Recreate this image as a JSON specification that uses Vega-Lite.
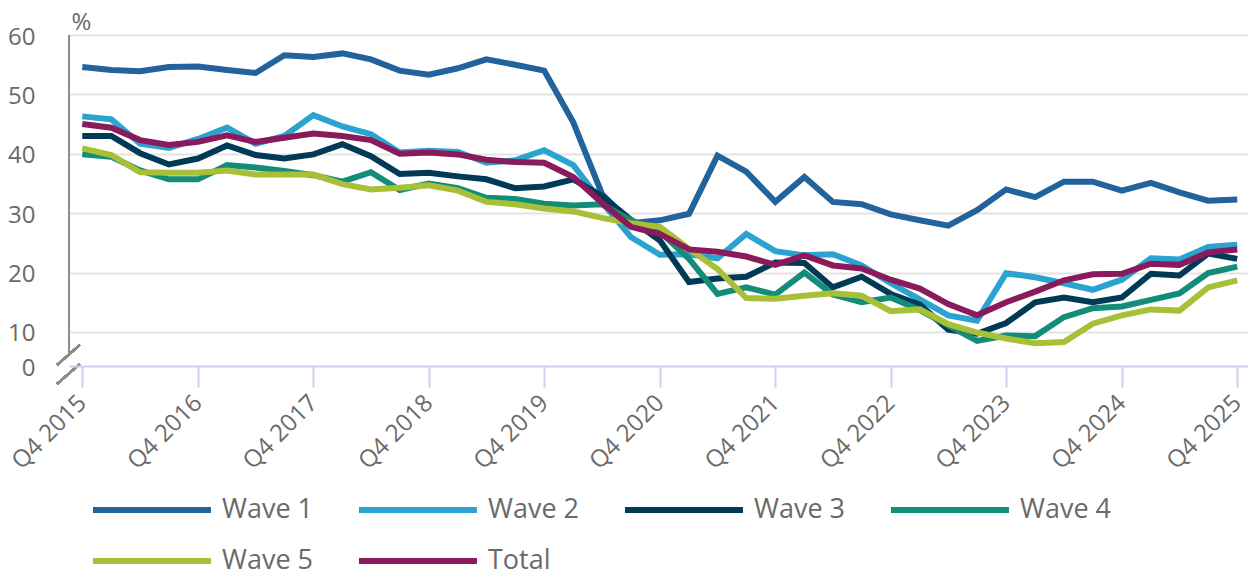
{
  "$schema": "https://vega.github.io/schema/vega-lite/v6.json",
  "width": 1179,
  "height": 331,
  "autosize": {"type": "none"},
  "padding": {"left": 69, "top": 35, "right": 0, "bottom": 210},
  "background": "white",
  "config": {"view": {"stroke": null}, "font": "Open Sans"},
  "data": {"values": [
    {"quarter": "2015-10-01", "Wave 1": 54.6, "Wave 2": 46.3, "Wave 3": 43.0, "Wave 4": 39.9, "Wave 5": 40.9, "Total": 45.0},
    {"quarter": "2016-01-01", "Wave 1": 54.1, "Wave 2": 45.8, "Wave 3": 43.0, "Wave 4": 39.5, "Wave 5": 39.8, "Total": 44.4},
    {"quarter": "2016-04-01", "Wave 1": 53.9, "Wave 2": 41.7, "Wave 3": 40.1, "Wave 4": 37.2, "Wave 5": 36.9, "Total": 42.3},
    {"quarter": "2016-07-01", "Wave 1": 54.6, "Wave 2": 41.0, "Wave 3": 38.2, "Wave 4": 35.7, "Wave 5": 36.8, "Total": 41.5},
    {"quarter": "2016-10-01", "Wave 1": 54.7, "Wave 2": 42.5, "Wave 3": 39.2, "Wave 4": 35.7, "Wave 5": 36.8, "Total": 42.0},
    {"quarter": "2017-01-01", "Wave 1": 54.1, "Wave 2": 44.4, "Wave 3": 41.4, "Wave 4": 38.1, "Wave 5": 37.2, "Total": 43.1},
    {"quarter": "2017-04-01", "Wave 1": 53.6, "Wave 2": 41.7, "Wave 3": 39.8, "Wave 4": 37.7, "Wave 5": 36.5, "Total": 42.0},
    {"quarter": "2017-07-01", "Wave 1": 56.6, "Wave 2": 43.0, "Wave 3": 39.2, "Wave 4": 37.1, "Wave 5": 36.5, "Total": 42.7},
    {"quarter": "2017-10-01", "Wave 1": 56.3, "Wave 2": 46.5, "Wave 3": 39.9, "Wave 4": 36.4, "Wave 5": 36.5, "Total": 43.4},
    {"quarter": "2018-01-01", "Wave 1": 56.9, "Wave 2": 44.6, "Wave 3": 41.6, "Wave 4": 35.3, "Wave 5": 34.9, "Total": 43.0},
    {"quarter": "2018-04-01", "Wave 1": 55.9, "Wave 2": 43.3, "Wave 3": 39.6, "Wave 4": 36.9, "Wave 5": 34.0, "Total": 42.3},
    {"quarter": "2018-07-01", "Wave 1": 54.0, "Wave 2": 40.2, "Wave 3": 36.6, "Wave 4": 33.9, "Wave 5": 34.3, "Total": 40.0},
    {"quarter": "2018-10-01", "Wave 1": 53.3, "Wave 2": 40.5, "Wave 3": 36.8, "Wave 4": 35.0, "Wave 5": 34.7, "Total": 40.2},
    {"quarter": "2019-01-01", "Wave 1": 54.4, "Wave 2": 40.3, "Wave 3": 36.2, "Wave 4": 34.2, "Wave 5": 33.8, "Total": 39.9},
    {"quarter": "2019-04-01", "Wave 1": 55.9, "Wave 2": 38.5, "Wave 3": 35.7, "Wave 4": 32.6, "Wave 5": 31.9, "Total": 39.0},
    {"quarter": "2019-07-01", "Wave 1": 55.0, "Wave 2": 38.9, "Wave 3": 34.2, "Wave 4": 32.4, "Wave 5": 31.5, "Total": 38.6},
    {"quarter": "2019-10-01", "Wave 1": 54.0, "Wave 2": 40.6, "Wave 3": 34.5, "Wave 4": 31.6, "Wave 5": 30.8, "Total": 38.5},
    {"quarter": "2020-01-01", "Wave 1": 45.3, "Wave 2": 38.1, "Wave 3": 35.7, "Wave 4": 31.3, "Wave 5": 30.3, "Total": 36.1},
    {"quarter": "2020-04-01", "Wave 1": 33.2, "Wave 2": 31.8, "Wave 3": 32.9, "Wave 4": 31.5, "Wave 5": 29.2, "Total": 31.7},
    {"quarter": "2020-07-01", "Wave 1": 28.3, "Wave 2": 26.0, "Wave 3": 28.9, "Wave 4": 28.8, "Wave 5": 28.3, "Total": 27.7},
    {"quarter": "2020-10-01", "Wave 1": 28.8, "Wave 2": 23.0, "Wave 3": 25.4, "Wave 4": 26.9, "Wave 5": 27.7, "Total": 26.5},
    {"quarter": "2021-01-01", "Wave 1": 29.9, "Wave 2": 23.1, "Wave 3": 18.4, "Wave 4": 22.3, "Wave 5": 24.0, "Total": 23.9},
    {"quarter": "2021-04-01", "Wave 1": 39.7, "Wave 2": 22.4, "Wave 3": 19.0, "Wave 4": 16.4, "Wave 5": 20.6, "Total": 23.5},
    {"quarter": "2021-07-01", "Wave 1": 37.0, "Wave 2": 26.5, "Wave 3": 19.3, "Wave 4": 17.5, "Wave 5": 15.7, "Total": 22.7},
    {"quarter": "2021-10-01", "Wave 1": 31.9, "Wave 2": 23.6, "Wave 3": 21.7, "Wave 4": 16.3, "Wave 5": 15.6, "Total": 21.3},
    {"quarter": "2022-01-01", "Wave 1": 36.1, "Wave 2": 22.9, "Wave 3": 21.6, "Wave 4": 20.0, "Wave 5": 16.1, "Total": 22.9},
    {"quarter": "2022-04-01", "Wave 1": 31.9, "Wave 2": 23.1, "Wave 3": 17.5, "Wave 4": 16.3, "Wave 5": 16.5, "Total": 21.2},
    {"quarter": "2022-07-01", "Wave 1": 31.5, "Wave 2": 21.2, "Wave 3": 19.3, "Wave 4": 15.0, "Wave 5": 16.1, "Total": 20.7},
    {"quarter": "2022-10-01", "Wave 1": 29.8, "Wave 2": 18.2, "Wave 3": 16.4, "Wave 4": 15.8, "Wave 5": 13.5, "Total": 18.8},
    {"quarter": "2023-01-01", "Wave 1": 28.8, "Wave 2": 15.5, "Wave 3": 14.6, "Wave 4": 13.7, "Wave 5": 13.8, "Total": 17.3},
    {"quarter": "2023-04-01", "Wave 1": 27.9, "Wave 2": 12.8, "Wave 3": 10.4, "Wave 4": 11.1, "Wave 5": 11.3, "Total": 14.7},
    {"quarter": "2023-07-01", "Wave 1": 30.5, "Wave 2": 11.9, "Wave 3": 9.7, "Wave 4": 8.5, "Wave 5": 9.9, "Total": 12.8},
    {"quarter": "2023-10-01", "Wave 1": 34.0, "Wave 2": 19.9, "Wave 3": 11.5, "Wave 4": 9.4, "Wave 5": 8.9, "Total": 15.0},
    {"quarter": "2024-01-01", "Wave 1": 32.7, "Wave 2": 19.2, "Wave 3": 15.0, "Wave 4": 9.3, "Wave 5": 8.1, "Total": 16.8},
    {"quarter": "2024-04-01", "Wave 1": 35.3, "Wave 2": 18.2, "Wave 3": 15.8, "Wave 4": 12.5, "Wave 5": 8.3, "Total": 18.7},
    {"quarter": "2024-07-01", "Wave 1": 35.3, "Wave 2": 17.1, "Wave 3": 15.0, "Wave 4": 14.0, "Wave 5": 11.4, "Total": 19.7},
    {"quarter": "2024-10-01", "Wave 1": 33.8, "Wave 2": 18.8, "Wave 3": 15.8, "Wave 4": 14.3, "Wave 5": 12.8, "Total": 19.8},
    {"quarter": "2025-01-01", "Wave 1": 35.1, "Wave 2": 22.4, "Wave 3": 19.8, "Wave 4": 15.4, "Wave 5": 13.8, "Total": 21.5},
    {"quarter": "2025-04-01", "Wave 1": 33.5, "Wave 2": 22.2, "Wave 3": 19.5, "Wave 4": 16.5, "Wave 5": 13.6, "Total": 21.3},
    {"quarter": "2025-07-01", "Wave 1": 32.1, "Wave 2": 24.3, "Wave 3": 23.2, "Wave 4": 19.9, "Wave 5": 17.5, "Total": 23.4},
    {"quarter": "2025-10-01", "Wave 1": 32.3, "Wave 2": 24.7, "Wave 3": 22.3, "Wave 4": 21.0, "Wave 5": 18.7, "Total": 23.9}
  ]},
  "layer": [
    {
      "transform": [{"fold": ["Wave 1", "Wave 2", "Wave 3", "Wave 4", "Wave 5", "Total"], "as": ["series", "value"]}],
      "mark": {"type": "line", "strokeWidth": 6, "strokeJoin": "miter", "strokeCap": "butt"},
      "encoding": {
        "x": {
          "field": "quarter", "type": "temporal",
          "scale": {"type": "utc", "domain": [{"year": 2015, "month": 8, "date": 20, "utc": true}, {"year": 2025, "month": 11, "date": 4, "utc": true}]},
          "axis": {
            "title": null,
            "values": [
              {"year": 2015, "month": 10, "date": 1, "utc": true},
              {"year": 2016, "month": 10, "date": 1, "utc": true},
              {"year": 2017, "month": 10, "date": 1, "utc": true},
              {"year": 2018, "month": 10, "date": 1, "utc": true},
              {"year": 2019, "month": 10, "date": 1, "utc": true},
              {"year": 2020, "month": 10, "date": 1, "utc": true},
              {"year": 2021, "month": 10, "date": 1, "utc": true},
              {"year": 2022, "month": 10, "date": 1, "utc": true},
              {"year": 2023, "month": 10, "date": 1, "utc": true},
              {"year": 2024, "month": 10, "date": 1, "utc": true},
              {"year": 2025, "month": 10, "date": 1, "utc": true}
            ],
            "labelExpr": "utcFormat(datum.value, 'Q%q %Y')",
            "labelAngle": -45, "labelAlign": "right", "labelBaseline": "middle",
            "labelFont": "Open Sans", "labelFontSize": 24, "labelColor": "#6a6a6a",
            "labelPadding": 12, "labelFlush": false, "labelOverlap": false,
            "domainColor": "#c8d3ec", "domainWidth": 2,
            "tickColor": "#c8d3ec", "tickWidth": 2, "tickSize": 21,
            "grid": false, "zindex": 1
          }
        },
        "y": {
          "field": "value", "type": "quantitative",
          "scale": {"domain": [4.27, 60], "nice": false, "zero": false},
          "axis": {
            "title": "%", "titleAngle": 0, "titleAlign": "left", "titleBaseline": "alphabetic",
            "titleX": 2, "titleY": -6, "titleFont": "Open Sans", "titleFontSize": 24,
            "titleFontWeight": "normal", "titleColor": "#6a6a6a",
            "values": [4.27, 10, 20, 30, 40, 50, 60],
            "labelExpr": "datum.value < 5 ? '0' : datum.label",
            "labelFont": "Open Sans", "labelFontSize": 24, "labelColor": "#6a6a6a",
            "labelPadding": 34, "labelOffset": 2, "ticks": false, "domain": false,
            "grid": true, "gridColor": "#e3e3e3", "gridWidth": 2,
            "gridOpacity": {"condition": {"test": "datum.value < 5", "value": 0}, "value": 1}
          }
        },
        "color": {
          "field": "series", "type": "nominal",
          "scale": {
            "domain": ["Wave 1", "Wave 2", "Wave 3", "Wave 4", "Wave 5", "Total"],
            "range": ["#22639b", "#2ba3d0", "#003a57", "#138c78", "#a8bf38", "#891a5b"]
          },
          "legend": {
            "title": null, "orient": "none", "legendX": 9, "legendY": 460,
            "direction": "horizontal", "columns": 4, "padding": 0,
            "symbolType": "M0,0H9.83", "symbolSize": 576, "symbolStrokeWidth": 6,
            "labelFont": "Open Sans", "labelFontSize": 27, "labelColor": "#6a6a6a",
            "labelOffset": 114, "labelLimit": 400,
            "columnPadding": 30, "rowPadding": 23
          }
        }
      }
    },
    {
      "mark": {"type": "rule", "color": "#8c8c8c", "strokeWidth": 2},
      "encoding": {
        "x": {"datum": {"year": 2015, "month": 8, "date": 20, "utc": true}, "type": "temporal"},
        "y": {"datum": 6.07, "type": "quantitative"},
        "y2": {"datum": 60}
      }
    },
    {
      "mark": {"type": "rule", "color": "#8c8c8c", "strokeWidth": 2, "clip": false},
      "encoding": {
        "x": {"datum": {"year": 2015, "month": 7, "date": 13, "utc": true}, "type": "temporal"},
        "x2": {"datum": {"year": 2015, "month": 9, "date": 23, "utc": true}},
        "y": {"datum": 4.44, "type": "quantitative"},
        "y2": {"datum": 7.81}
      }
    },
    {
      "mark": {"type": "rule", "color": "#8c8c8c", "strokeWidth": 2, "clip": false},
      "encoding": {
        "x": {"datum": {"year": 2015, "month": 7, "date": 13, "utc": true}, "type": "temporal"},
        "x2": {"datum": {"year": 2015, "month": 9, "date": 23, "utc": true}},
        "y": {"datum": 1.24, "type": "quantitative"},
        "y2": {"datum": 4.61}
      }
    }
  ]
}
